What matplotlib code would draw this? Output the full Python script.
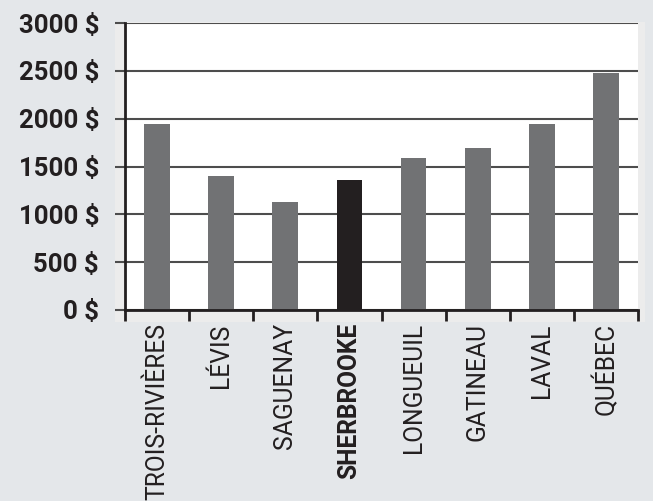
import numpy as np
import matplotlib
matplotlib.use("Agg")
import matplotlib.pyplot as plt
from matplotlib.patches import Rectangle

villes = ["TROIS-RIVIÈRES", "LÉVIS", "SAGUENAY", "SHERBROOKE",
          "LONGUEUIL", "GATINEAU", "LAVAL", "QUÉBEC"]
montants = [1940, 1400, 1130, 1360, 1590, 1690, 1940, 2480]
yticks = [0, 500, 1000, 1500, 2000, 2500, 3000]
ytick_labels = ["0 $", "500 $", "1000 $", "1500 $", "2000 $", "2500 $", "3000 $"]
ville_mise_en_avant = "SHERBROOKE"

plt.rcParams["font.family"] = ["Roboto", "DejaVu Sans"]

fond = "#e4e7ea"
gris = "#717274"
noir = "#231f20"

fig = plt.figure(figsize=(6.53, 5.01), dpi=100, facecolor=fond)

# bande claire derriere les axes
fig.patches.append(Rectangle((115 / 653, 1 - 322 / 501), 530 / 653, 300 / 501,
                             transform=fig.transFigure, facecolor="#ececec",
                             edgecolor="none", zorder=-5))

ax = fig.add_axes([125 / 653, 1 - 310 / 501, 513 / 653, 287 / 501])
ax.set_zorder(2)
ax.set_facecolor("white")

x = np.arange(len(villes))
couleurs = [noir if v == ville_mise_en_avant else gris for v in villes]
ax.bar(x, montants, width=0.4, color=couleurs, zorder=3)

ax.set_xlim(-0.5, len(villes) - 0.5)
ax.set_ylim(0, 3000)
ax.set_yticks(yticks)
ax.set_yticklabels(ytick_labels, fontsize=18.5, fontweight="bold", color=noir)
ax.yaxis.grid(True, color="#4d4d4d", linewidth=1.5, zorder=1)
ax.tick_params(axis="y", length=7.2, width=1.5, color="#4d4d4d", pad=11.5)

ax.set_xticks(x)
ax.set_xticklabels(villes, rotation=90, fontsize=17.7, color=noir)
for lab in ax.get_xticklabels():
    if lab.get_text() == ville_mise_en_avant:
        lab.set_fontweight("bold")
ax.set_xticks(np.arange(-0.5, len(villes)), minor=True)
ax.tick_params(axis="x", which="major", length=0, pad=9.5)
ax.tick_params(axis="x", which="minor", length=8, width=2, color=noir)

for s in ["top", "right"]:
    ax.spines[s].set_visible(False)
for s in ["left", "bottom"]:
    ax.spines[s].set_linewidth(2)
    ax.spines[s].set_color(noir)
    ax.spines[s].set_zorder(4)

fig.savefig("out.png", dpi=100, facecolor=fond)
